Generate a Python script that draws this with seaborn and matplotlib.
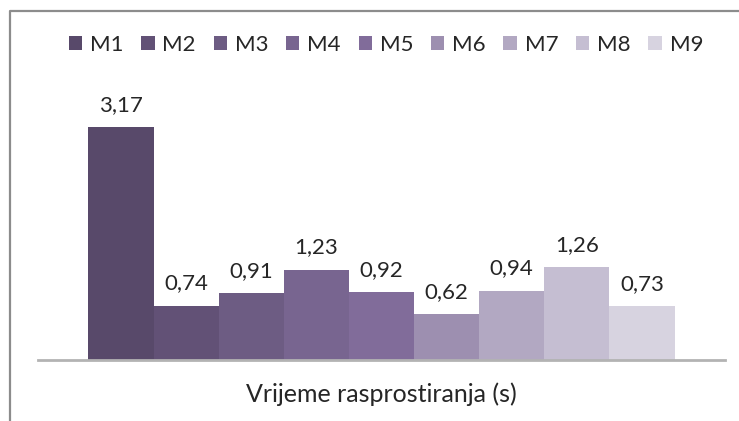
import matplotlib
matplotlib.use('Agg')
import matplotlib.pyplot as plt
from matplotlib.lines import Line2D
import seaborn as sns
import pandas as pd

# podaci
serije = ['M1', 'M2', 'M3', 'M4', 'M5', 'M6', 'M7', 'M8', 'M9']
vrijednosti = [3.17, 0.74, 0.91, 1.23, 0.92, 0.62, 0.94, 1.26, 0.73]
kategorija = 'Vrijeme rasprostiranja (s)'
boje = ['#574370', '#614b7c', '#6c5589', '#775e97', '#8064a2',
        '#9c8ab5', '#b1a4c6', '#c4bbd5', '#d6d1e2']

df = pd.DataFrame({'kat': [kategorija] * len(serije),
                   'serija': serije,
                   'vrijeme': vrijednosti})

sns.set_style('white')
plt.rcParams['font.family'] = ['Lato', 'DejaVu Sans']

fig = plt.figure(figsize=(7.39, 4.21), dpi=100)
ax = fig.add_axes([38 / 739, 61 / 421, 687 / 739, 257 / 421])

sns.barplot(data=df, x='kat', y='vrijeme', hue='serija', palette=boje,
            width=0.853, gap=0, dodge=True, linewidth=0, ax=ax)

ax.set_ylim(0, 3.5)
ax.set_xlim(-0.5, 0.5)

# natpisi vrijednosti
for cont in ax.containers:
    ax.bar_label(cont, labels=[f'{v:.2f}'.replace('.', ',') for v in cont.datavalues],
                 padding=9, fontsize=16, color='#262626')

# osi
for s in ['top', 'right', 'left']:
    ax.spines[s].set_visible(False)
ax.spines['bottom'].set_color('#b3b3b3')
ax.spines['bottom'].set_linewidth(2)
ax.set_yticks([])
ax.set_xticks([])
ax.set_ylabel('')
ax.set_xlabel(kategorija, fontsize=18, color='#262626', labelpad=16)

# legenda
handles, labels = ax.get_legend_handles_labels()
ax.legend(handles, labels, ncol=9, loc='center', bbox_to_anchor=(386 / 739, 376 / 421),
          bbox_transform=fig.transFigure, frameon=False, fontsize=16,
          handlelength=0.6, handleheight=0.6, handletextpad=0.35,
          columnspacing=0.8, labelcolor='#262626')

# okvir grafikona (vidljiv gore i lijevo)
fig.add_artist(Line2D([10 / 739, 10 / 739, 1.0], [0.0, 1 - 11 / 421, 1 - 11 / 421],
                      transform=fig.transFigure, color='#8c8c8c', linewidth=1.6))

fig.savefig('out.png', dpi=100)
